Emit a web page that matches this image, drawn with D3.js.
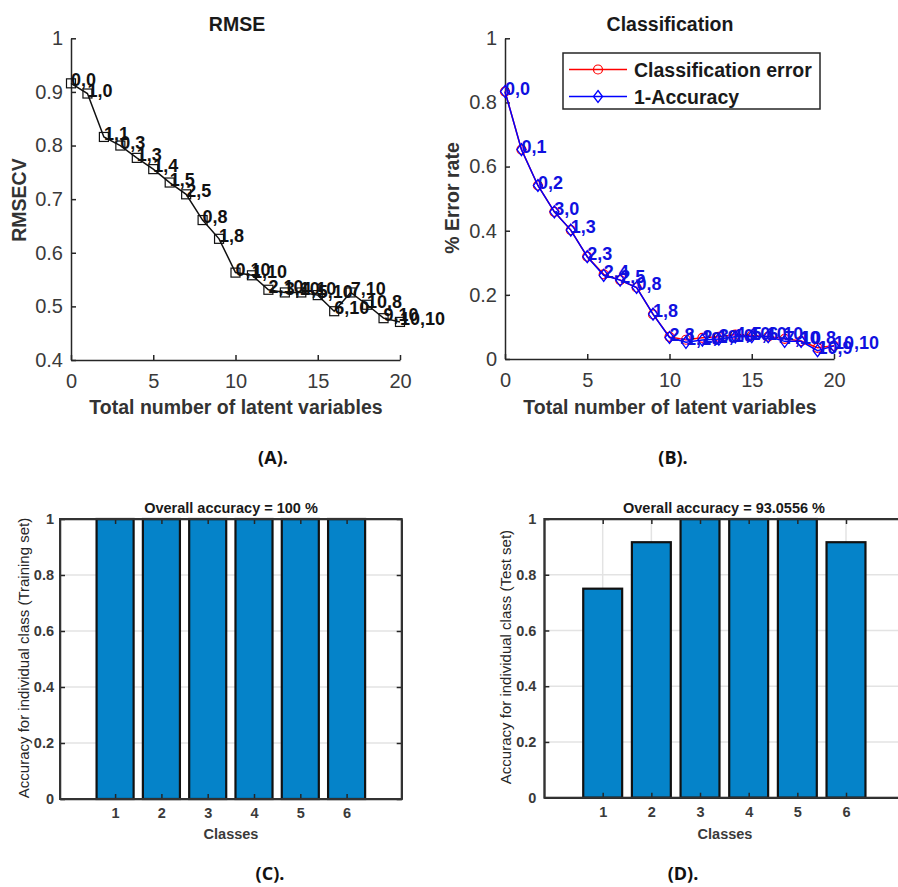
<!DOCTYPE html>
<html>
<head>
<meta charset="utf-8">
<script src="https://cdn.jsdelivr.net/npm/d3@7"></script>
<style>
  body { margin: 0; background: #fff; }
  text { font-family: "Liberation Sans", Arial, sans-serif; }
</style>
</head>
<body>
<svg id="fig" width="898" height="887"></svg>
<script>
// number of latent variables
var latentVars = [0,1,2,3,4,5,6,7,8,9,10,11,12,13,14,15,16,17,18,19,20];
// panel A
var rmsecv = [0.916,0.897,0.816,0.800,0.777,0.756,0.731,0.709,0.661,0.626,0.563,0.558,0.531,0.526,0.526,0.521,0.491,0.526,0.503,0.478,0.471];
var rmseLabels = ['0,0','1,0','1,1','0,3','1,3','1,4','1,5','2,5','0,8','1,8','0,10','1,10','2,10','3,10','4,10','5,10','6,10','7,10','10,8','9,10','10,10'];
// panel B
var classError = [0.834,0.653,0.541,0.459,0.402,0.319,0.264,0.246,0.223,0.139,0.069,0.060,0.066,0.069,0.076,0.073,0.070,0.063,0.056,0.035,0.041];
var oneMinusAcc = [0.834,0.653,0.541,0.459,0.402,0.319,0.261,0.246,0.223,0.140,0.067,0.052,0.059,0.062,0.069,0.070,0.070,0.055,0.055,0.026,0.041];
var classLabels = ['0,0','0,1','0,2','3,0','1,3','2,3','2,4','2,5','0,8','1,8','2,8','1,10','2,10','3,10','4,10','5,10','6,10','7,10','10,8','10,9','10,10'];
// panels C, D
var classes = [1,2,3,4,5,6];
var trainAcc = [1,1,1,1,1,1];
var testAcc = [0.75,0.9167,1,1,1,0.9167];
var yTicksAB = { a: [0.4,0.5,0.6,0.7,0.8,0.9,1], b: [0,0.2,0.4,0.6,0.8,1] };
var xTicksAB = [0,5,10,15,20];
var yTicksCD = [0,0.2,0.4,0.6,0.8,1];

var svg = d3.select('#fig');
var axisCol = '#262626';

function styleAxis(g, fs, bold) {
	g.selectAll('path').attr('stroke', axisCol).attr('stroke-width', 1.5);
	g.selectAll('line').attr('stroke', axisCol).attr('stroke-width', 1.5);
	g.selectAll('text').attr('fill', '#3a3a3a').style('font-size', fs + 'px')
		.style('font-weight', bold ? 'bold' : 'normal').style('font-family', '"Liberation Sans", Arial, sans-serif');
}

function label(x, y, str, size, opts) {
	opts = opts || {};
	var t = svg.append('text').attr('x', x).attr('y', y)
		.attr('text-anchor', opts.anchor || 'middle')
		.attr('dominant-baseline', 'central')
		.style('font-size', size + 'px')
		.style('font-weight', opts.weight || 'bold')
		.attr('fill', opts.fill || '#1a1a1a')
		.text(str);
	if (opts.rotate) t.attr('transform', 'rotate(-90,' + x + ',' + y + ')');
	if (opts.family) t.style('font-family', opts.family);
	return t;
}

// line panels (A, B)
function linePanel(x0, x1, y0, y1, ydom, yticks) {
	var x = d3.scaleLinear().domain([0, 20]).range([x0, x1]);
	var y = d3.scaleLinear().domain(ydom).range([y0, y1]);
	var gx = svg.append('g').attr('transform', 'translate(0,' + y0 + ')')
		.call(d3.axisBottom(x).tickValues(xTicksAB).tickSizeInner(-5).tickSizeOuter(0).tickPadding(14));
	styleAxis(gx, 20, false);
	var gy = svg.append('g').attr('transform', 'translate(' + x0 + ',0)')
		.call(d3.axisLeft(y).tickValues(yticks).tickFormat(d3.format('')).tickSizeInner(-5).tickSizeOuter(0).tickPadding(8));
	styleAxis(gy, 20, false);
	return { x: x, y: y };
}

// Panel A
var A = linePanel(71, 400, 360, 38.3, [0.4, 1], yTicksAB.a);
svg.append('path').datum(rmsecv)
	.attr('d', d3.line().x(function (d, i) { return A.x(latentVars[i]); }).y(function (d) { return A.y(d); }))
	.attr('fill', 'none').attr('stroke', '#111').attr('stroke-width', 1.5);
svg.append('g').selectAll('rect').data(rmsecv).enter().append('rect')
	.attr('x', function (d, i) { return A.x(latentVars[i]) - 4.5; })
	.attr('y', function (d) { return A.y(d) - 4.5; })
	.attr('width', 9).attr('height', 9)
	.attr('fill', 'none').attr('stroke', '#111').attr('stroke-width', 1.2);
svg.append('g').selectAll('text').data(rmsecv).enter().append('text')
	.attr('x', function (d, i) { return A.x(latentVars[i]); })
	.attr('y', function (d) { return A.y(d) - 3; })
	.attr('dominant-baseline', 'central')
	.style('font-size', '18px').style('font-weight', 'bold').attr('fill', '#111')
	.text(function (d, i) { return rmseLabels[i]; });
label(237, 24, 'RMSE', 19.5);
label(19, 200, 'RMSECV', 19.5, { rotate: true, fill: '#333' });
label(236, 407, 'Total number of latent variables', 19.5, { fill: '#333' });

// Panel B
var B = linePanel(505, 834, 359, 38.3, [0, 1], yTicksAB.b);
var lineB = d3.line().x(function (d, i) { return B.x(latentVars[i]); }).y(function (d) { return B.y(d); });
svg.append('path').datum(classError).attr('d', lineB)
	.attr('fill', 'none').attr('stroke', '#ff0000').attr('stroke-width', 1.5);
svg.append('g').selectAll('circle').data(classError).enter().append('circle')
	.attr('cx', function (d, i) { return B.x(latentVars[i]); })
	.attr('cy', function (d) { return B.y(d); })
	.attr('r', 4.5).attr('fill', 'none').attr('stroke', '#ff0000').attr('stroke-width', 1.2);
svg.append('path').datum(oneMinusAcc).attr('d', lineB)
	.attr('fill', 'none').attr('stroke', '#0000ff').attr('stroke-width', 1.5);
var diamond = 'M0,-6L4.5,0L0,6L-4.5,0Z';
svg.append('g').selectAll('path').data(oneMinusAcc).enter().append('path')
	.attr('d', diamond)
	.attr('transform', function (d, i) { return 'translate(' + B.x(latentVars[i]) + ',' + B.y(d) + ')'; })
	.attr('fill', 'none').attr('stroke', '#0000ff').attr('stroke-width', 1.3);
svg.append('g').selectAll('text').data(oneMinusAcc).enter().append('text')
	.attr('x', function (d, i) { return B.x(latentVars[i]); })
	.attr('y', function (d) { return B.y(d) - 3; })
	.attr('dominant-baseline', 'central')
	.style('font-size', '18px').style('font-weight', 'bold').attr('fill', '#1010e0')
	.text(function (d, i) { return classLabels[i]; });
label(670, 24, 'Classification', 19.5);
label(452, 198, '% Error rate', 19.5, { rotate: true, fill: '#333' });
label(670, 407, 'Total number of latent variables', 19.5, { fill: '#333' });

// legend
var leg = svg.append('g');
leg.append('rect').attr('x', 563).attr('y', 53).attr('width', 257).attr('height', 56)
	.attr('fill', '#fff').attr('stroke', axisCol).attr('stroke-width', 1.5);
leg.append('line').attr('x1', 569).attr('x2', 627).attr('y1', 69.5).attr('y2', 69.5).attr('stroke', '#ff0000').attr('stroke-width', 1.5);
leg.append('circle').attr('cx', 598).attr('cy', 69.5).attr('r', 4.5).attr('fill', 'none').attr('stroke', '#ff0000').attr('stroke-width', 1.2);
leg.append('line').attr('x1', 569).attr('x2', 627).attr('y1', 96.5).attr('y2', 96.5).attr('stroke', '#0000ff').attr('stroke-width', 1.5);
leg.append('path').attr('d', diamond).attr('transform', 'translate(598,96.5)').attr('fill', 'none').attr('stroke', '#0000ff').attr('stroke-width', 1.3);
label(634, 69.5, 'Classification error', 19.5, { anchor: 'start' });
label(634, 96.5, '1-Accuracy', 19.5, { anchor: 'start' });

// bar panels (C, D)
function barPanel(x0, x1, y0, y1, xdom, values, title, titleX, ylab, ylabX, ylabY, tickPad) {
	var x = d3.scaleLinear().domain(xdom).range([x0, x1]);
	var y = d3.scaleLinear().domain([0, 1]).range([y0, y1]);
	var g = svg.append('g');
	// grid
	g.selectAll('.hg').data(yTicksCD.slice(1, 5)).enter().append('line')
		.attr('x1', x0).attr('x2', x1).attr('y1', y).attr('y2', y)
		.attr('stroke', '#e3e3e3').attr('stroke-width', 1.5);
	g.selectAll('.vg').data(classes).enter().append('line')
		.attr('x1', x).attr('x2', x).attr('y1', y0).attr('y2', y1)
		.attr('stroke', '#e3e3e3').attr('stroke-width', 1.5);
	g.selectAll('rect.bar').data(values).enter().append('rect')
		.attr('x', function (d, i) { return x(classes[i] - 0.4); })
		.attr('y', function (d) { return y(d); })
		.attr('width', function (d, i) { return x(classes[i] + 0.4) - x(classes[i] - 0.4); })
		.attr('height', function (d) { return y(0) - y(d); })
		.attr('fill', '#0583c9').attr('stroke', '#111').attr('stroke-width', 2.2);
	var gx = g.append('g').attr('transform', 'translate(0,' + y0 + ')')
		.call(d3.axisBottom(x).tickValues(classes).tickSizeInner(-5).tickSizeOuter(0).tickPadding(9));
	styleAxis(gx, 14.5, true);
	var gxt = g.append('g').attr('transform', 'translate(0,' + y1 + ')')
		.call(d3.axisTop(x).tickValues(classes).tickSizeInner(-5).tickSizeOuter(0).tickFormat(''));
	styleAxis(gxt, 14.5, true);
	var gy = g.append('g').attr('transform', 'translate(' + x0 + ',0)')
		.call(d3.axisLeft(y).tickValues(yTicksCD).tickFormat(d3.format('')).tickSizeInner(-5).tickSizeOuter(0).tickPadding(tickPad));
	styleAxis(gy, 14.5, true);
	var gyr = g.append('g').attr('transform', 'translate(' + x1 + ',0)')
		.call(d3.axisRight(y).tickValues(yTicksCD).tickSizeInner(-5).tickSizeOuter(0).tickFormat(''));
	styleAxis(gyr, 14.5, true);
	g.append('rect').attr('x', x0).attr('y', y1).attr('width', x1 - x0).attr('height', y0 - y1)
		.attr('fill', 'none').attr('stroke', '#333').attr('stroke-width', 2);
	label(titleX, y1 - 11, title, 14.5);
	label(ylabX, ylabY, ylab, 15, { rotate: true, weight: 'normal', fill: '#262626' });
	return x;
}

barPanel(60, 401.7, 799, 519, [-0.19, 7.19], trainAcc, 'Overall accuracy = 100 %', 231,
	'Accuracy for individual class (Training set)', 23, 658, 6);
label(231, 834, 'Classes', 14.5, { fill: '#3a3a3a' });
barPanel(544.3, 904.4, 797.7, 519, [-0.2, 7.2], testAcc, 'Overall accuracy = 93.0556 %', 724,
	'Accuracy for individual class (Test set)', 505, 657, 8);
label(725, 834, 'Classes', 14.5, { fill: '#3a3a3a' });

// panel letters
var capFont = '"Open Sans", "Liberation Sans", sans-serif';
label(273, 457, '(A).', 18, { family: capFont, fill: '#111' });
label(673, 457, '(B).', 18, { family: capFont, fill: '#111' });
label(270, 873, '(C).', 18, { family: capFont, fill: '#111' });
label(683, 873, '(D).', 18, { family: capFont, fill: '#111' });
</script>
</body>
</html>
